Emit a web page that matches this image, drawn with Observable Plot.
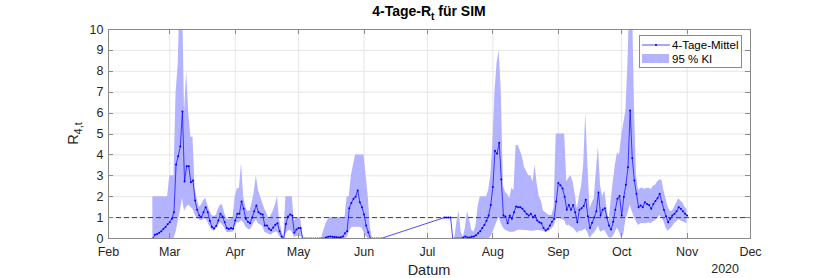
<!DOCTYPE html>
<html><head><meta charset="utf-8">
<script src="https://cdn.jsdelivr.net/npm/d3@7"></script>
<script src="https://cdn.jsdelivr.net/npm/@observablehq/plot@0.6"></script>
<style>body{margin:0;background:#fff}</style>
</head><body><div id="chart"></div>
<script>
// Segment A: daily from 2020-02-22 to 2020-06-09
const startA = "2020-02-22";
const meanA = [0,0.18,0.22,0.27,0.35,0.45,0.55,0.68,0.78,0.95,
1.26,3.54,3.94,4.4,6.08,2.73,3.46,3.46,2.69,2.77,
1.82,1.37,1.1,1.02,1.26,1.5,1.26,0.85,0.55,0.48,
0.6,0.86,1.18,1.05,0.78,0.5,0.45,0.5,0.47,0.86,
1.18,1.18,1.77,1.42,0.94,0.8,0.73,1.0,1.3,1.58,
1.26,1.18,1.15,0.62,0.62,0.47,0.4,0.53,0.66,0.73,
0.35,0.1,0,0.69,1.05,1.15,1.1,0.27,0.43,0.5,
0.5,0,0,0,0,0,0,0,0,0,
0,0,0.05,0.08,0.1,0.08,0.07,0.06,0.05,0.06,
0.1,0.25,0.35,1.45,1.7,1.9,2.0,2.3,1.74,1.5,
1.15,0.62,0.3,0,0,0,0,0,0];
const loA = [0,0,0,0,0,0,0,0,0,0,
0,0.3,0.8,1.3,1.9,1.3,1.5,1.6,1.5,1.4,
1.15,0.95,0.9,0.85,0.9,0.95,0.8,0.55,0.4,0.35,
0.45,0.6,0.75,0.65,0.5,0.3,0.28,0.3,0.3,0.55,
0.75,0.75,0.85,0.75,0.55,0.45,0.4,0.55,0.75,0.9,
0.7,0.65,0.6,0.3,0.25,0.2,0.15,0.25,0.3,0.3,
0.1,0,0,0.2,0.35,0.4,0.3,0.05,0.1,0.1,
0.1,0,0,0,0,0,0,0,0,0,
0,0,0,0,0,0,0,0,0,0,
0,0,0.05,0.3,0.5,0.54,0.54,0.54,0.54,0.5,
0.3,0.1,0,0,0,0,0,0,0];
const hiA = [2,2,2,2,2,2,2,2,3,3,
3,7,8.3,12,12,6,8,6,4.85,4.85,
2.4,1.9,1.5,1.6,1.8,1.93,1.6,1.3,1.1,1.05,
1.1,1.4,1.6,1.6,1.2,0.95,0.9,0.95,1.0,1.98,
2.38,2.4,3.6,2.0,1.5,1.3,1.3,1.7,2.2,3.0,
2.3,2.0,1.7,1.4,1.2,0.95,1.1,1.3,1.6,2.0,
0.9,0.4,0.05,2,2,2,2,0.8,1,1,
1,0,0,0,0,0,0,0,0,0,
0.05,0.4,0.7,0.9,1,1,1,1,1,1,
1,1,2,2,3,3.5,4,4,4,4,
4,3,2,0.5,0,0,0,0,0];

// Segment B: daily from 2020-07-09 to 2020-11-01
const startB = "2020-07-09";
const meanB = [1,1,1,1,0,0,0,0,0,0.05,
0.1,0.05,0.05,0.08,0.1,0.15,0.25,0.35,0.5,0.65,
0.85,1.1,1.6,2.46,4.2,4.05,4.58,2.82,1.1,1.05,
0.73,1.1,0.94,1.26,1.53,1.5,1.5,1.42,1.3,1.18,
1.1,1.18,1.02,1.1,0.86,0.78,0.73,0.5,0.38,0.45,
0.62,0.8,0.95,1.77,2.65,2.55,2.39,2.0,1.38,1.6,
1.38,1.6,1.26,0.78,1.38,1.45,1.55,1.86,1.06,0.5,
0.75,1.0,1.3,2.2,1.1,1.38,1.45,1.0,0.62,0.43,
0.8,1.38,1.9,2.03,1.1,1.98,2.57,3.41,6.12,3.84,
2.78,2.14,1.5,1.58,1.5,1.74,1.65,1.6,1.42,1.65,
1.8,1.93,2.14,1.75,1.38,1.06,0.78,0.95,1.1,1.18,
1.3,1.5,1.42,1.3,1.18,1.1];
const loB = [1,1,1,1,0,0,0,0,0,0,
0,0,0,0,0,0,0,0,0,0,
0,0,0.06,0.3,0.54,0.8,1.0,0.7,0.5,0.4,
0.35,0.3,0.3,0.3,0.35,0.4,0.4,0.4,0.38,0.38,
0.36,0.35,0.35,0.36,0.38,0.38,0.36,0.35,0.3,0.32,
0.38,0.45,0.6,0.9,1.0,0.95,0.9,0.85,0.6,0.65,
0.55,0.5,0.4,0.25,0.35,0.35,0.4,0.45,0.25,0,
0.15,0.25,0.4,0.6,0.3,0.35,0.4,0.2,0.05,0,
0.1,0.3,0.5,0.3,0,0.2,0.9,1.2,1.6,1.3,
1.0,0.8,0.62,0.7,0.72,0.7,0.72,0.75,0.7,0.8,
0.85,0.95,1.1,1.0,0.8,0.5,0.35,0.45,0.55,0.7,
0.8,0.9,0.85,0.8,0.75,0.7];
const hiB = [1,1,1,1,0,0,0.8,1.3,0.3,0.05,
0.5,1.3,0.9,0.4,0.3,0.6,1.5,2,2,2,
2,2.3,3,4.5,7,8.4,9,7,2.5,2.2,
2.1,1.9,2.4,2.3,4.45,4.45,4.2,3.9,3.4,3.2,
3,3,2.7,3.5,2.6,2,1.8,1.3,1.25,1.15,
1.1,1.1,1.5,5,5,5,5,5,2.7,2.9,
3,2.7,2.1,1.42,2,2.5,3.5,6,3.5,1.4,
1.7,1.9,3.2,4.4,2.5,2,2.3,1.5,0.8,1.8,
2.7,3.5,4.1,4,4.9,5.5,6.1,8.5,12,12,
6.5,3,2.3,2.4,2.4,2.35,2.4,2.4,2.35,2.5,
2.55,2.7,2.8,2.8,2.3,1.9,1.5,1.3,1.3,1.5,
1.7,1.9,1.8,1.7,1.5,1.4];

const monthTicks = ["2020-02-01","2020-03-01","2020-04-01","2020-05-01","2020-06-01","2020-07-01","2020-08-01","2020-09-01","2020-10-01","2020-11-01","2020-12-01"];
const yTicks = [0,1,2,3,4,5,6,7,8,9,10];
const refLevel = 1;
const legendLabels = ["4-Tage-Mittel", "95 % KI"];
const titleText = ["4-Tage-R", "t", " für SIM"];
const xLabel = "Datum";
const yLabel = ["R", "4,t"];
const yearLabel = "2020";

function rows(start, mean, lo, hi) {
  const s = new Date(start + "T00:00:00Z");
  return mean.map((m, i) => ({date: d3.utcDay.offset(s, i), mean: m, lo: lo[i], hi: hi[i]}));
}
const A = rows(startA, meanA, loA, hiA);
const B = rows(startB, meanB, loB, hiB);
const all = A.concat(B);
const mTicks = monthTicks.map(d => new Date(d + "T00:00:00Z"));

const FONT = '"Liberation Sans", Arial, Helvetica, sans-serif';
const bandColor = "#b3b3ff";
const lineColor = "#0000ff";
const axisColor = "#262626";
const frameColor = "#8a8a8a";

const plot = Plot.plot({
  width: 830, height: 278,
  marginLeft: 108, marginRight: 80, marginTop: 29, marginBottom: 40,
  style: {fontFamily: FONT, fontSize: "12.5px", color: axisColor, background: "white", overflow: "visible"},
  x: {type: "utc", domain: [mTicks[0], mTicks[mTicks.length - 1]], label: null},
  y: {domain: [0, 10], label: null},
  marks: [
    Plot.gridX(mTicks, {stroke: "#e6e6e6", strokeOpacity: 1}),
    Plot.gridY(yTicks, {stroke: "#e6e6e6", strokeOpacity: 1}),
    Plot.areaY(A, {x: "date", y1: "lo", y2: "hi", fill: bandColor, clip: true}),
    Plot.areaY(B, {x: "date", y1: "lo", y2: "hi", fill: bandColor, clip: true}),
    Plot.ruleY([refLevel], {stroke: "#404040", strokeDasharray: "5,3", strokeWidth: 1}),
    Plot.line(all, {x: "date", y: "mean", stroke: lineColor, strokeWidth: 0.7, clip: true}),
    Plot.dot(all, {x: "date", y: "mean", r: 1, fill: lineColor, stroke: null, clip: true}),
    Plot.axisX(mTicks, {tickSize: 0, tickPadding: 9, tickFormat: d3.utcFormat("%b"), label: null, fontSize: 12.5}),
    Plot.axisY(yTicks, {tickSize: 0, tickPadding: 5, label: null, fontSize: 12.5}),
    Plot.frame({stroke: frameColor})
  ]
});

const svg = d3.select(plot);
const xs = plot.scale("x"), ys = plot.scale("y");
const L = 108, R = 750, T = 29, Bm = 238;
const g = svg.append("g").attr("stroke", frameColor).attr("stroke-width", 1);
mTicks.forEach(d => {
  const x = Math.round(xs.apply(d)) + 0.5;
  g.append("line").attr("x1", x).attr("x2", x).attr("y1", Bm).attr("y2", Bm - 5);
  g.append("line").attr("x1", x).attr("x2", x).attr("y1", T).attr("y2", T + 5);
});
yTicks.forEach(v => {
  const y = Math.round(ys.apply(v)) + 0.5;
  g.append("line").attr("x1", L).attr("x2", L + 5).attr("y1", y).attr("y2", y);
  g.append("line").attr("x1", R).attr("x2", R - 5).attr("y1", y).attr("y2", y);
});

// Title
const t = svg.append("text").attr("x", (L + R) / 2).attr("y", 16).attr("text-anchor", "middle")
  .attr("font-family", FONT).attr("font-weight", "bold").attr("font-size", 14).attr("fill", "#000");
t.append("tspan").text(titleText[0]);
t.append("tspan").attr("dy", 4).attr("font-size", 10).text(titleText[1]);
t.append("tspan").attr("dy", -4).text(titleText[2]);

// X label
svg.append("text").attr("x", (L + R) / 2).attr("y", 275).attr("text-anchor", "middle")
  .attr("font-family", FONT).attr("font-size", 14.5).attr("fill", axisColor).text(xLabel);
// year
svg.append("text").attr("x", 739).attr("y", 273).attr("text-anchor", "end")
  .attr("font-family", FONT).attr("font-size", 12.5).attr("fill", axisColor).text(yearLabel);
// Y label
const yl = svg.append("text").attr("transform", `translate(78,${(T + Bm) / 2}) rotate(-90)`).attr("text-anchor", "middle")
  .attr("font-family", FONT).attr("font-size", 14.5).attr("fill", axisColor);
yl.append("tspan").text(yLabel[0]);
yl.append("tspan").attr("dy", 4).attr("font-size", 11).text(yLabel[1]);

// Legend
const lg = svg.append("g").attr("font-family", FONT).attr("font-size", 11.5).attr("fill", "#000").attr("text-anchor", "start");
lg.append("rect").attr("x", 639.5).attr("y", 35.5).attr("width", 102).attr("height", 32)
  .attr("fill", "white").attr("stroke", frameColor);
lg.append("line").attr("x1", 642).attr("x2", 670).attr("y1", 45).attr("y2", 45).attr("stroke", lineColor).attr("stroke-width", 0.7);
lg.append("circle").attr("cx", 656).attr("cy", 45).attr("r", 1).attr("fill", lineColor);
lg.append("text").attr("x", 672).attr("y", 49).attr("text-anchor", "start").text(legendLabels[0]);
lg.append("rect").attr("x", 642).attr("y", 54).attr("width", 27).attr("height", 9).attr("fill", bandColor);
lg.append("text").attr("x", 672).attr("y", 63).attr("text-anchor", "start").text(legendLabels[1]);

document.getElementById("chart").appendChild(plot);
</script>
</body></html>
